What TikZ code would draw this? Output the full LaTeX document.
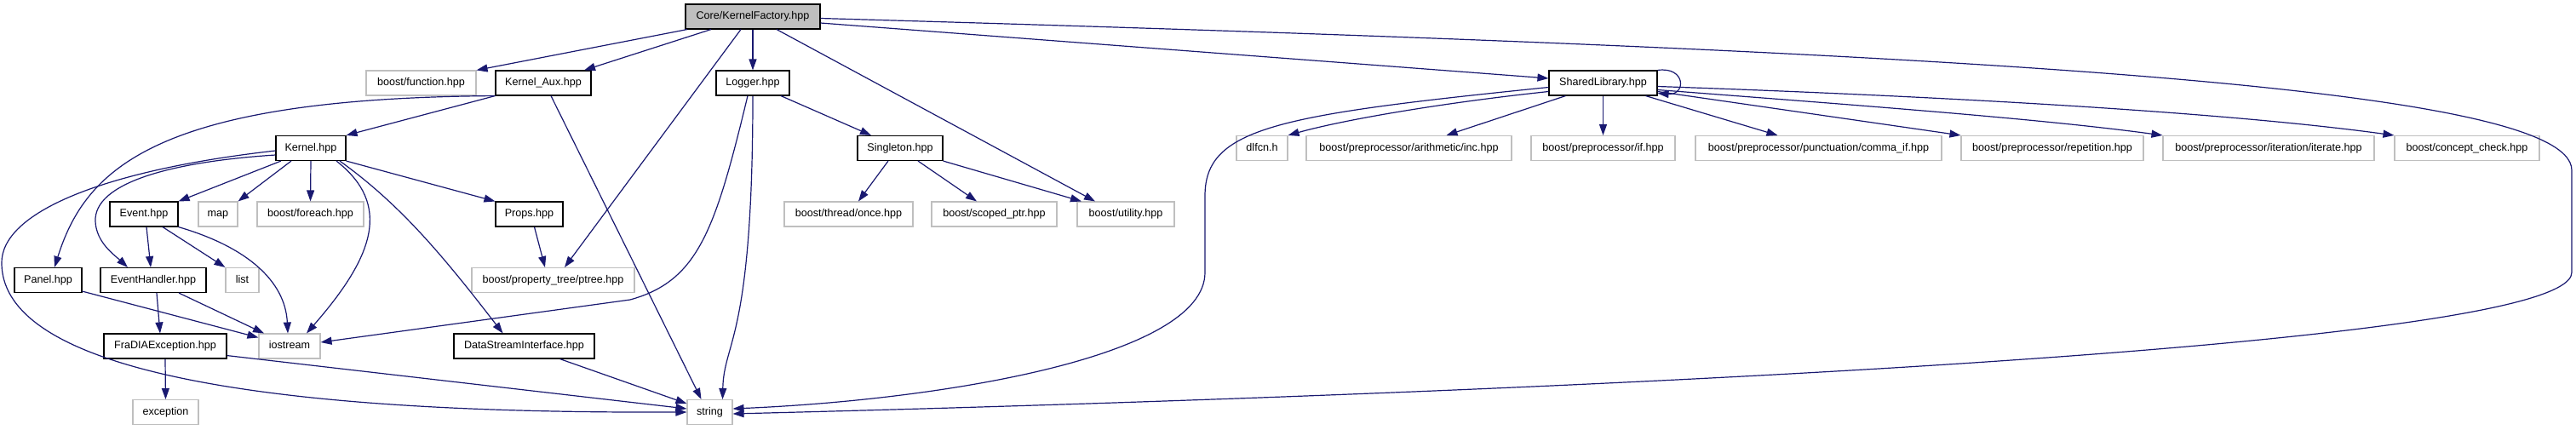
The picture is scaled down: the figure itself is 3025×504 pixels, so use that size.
\documentclass[tikz,border=0pt]{standalone}
\usepackage{fontspec}
\setmainfont{Liberation Sans}
\usetikzlibrary{arrows.meta}
\definecolor{edgec}{HTML}{191970}
\definecolor{grayb}{HTML}{BFBFBF}
\begin{document}
\begin{tikzpicture}[x=1pt,y=-1pt,
  box/.style={draw=black,line width=1.1pt,fill=white,minimum height=29pt,inner sep=0pt,
    font=\fontsize{12.6}{14}\selectfont,text height=9.2pt,text depth=2.6pt},
  ext/.style={box,draw=grayb,line width=1.1pt},
  root/.style={box,fill=grayb},
  dep/.style={draw=edgec,line width=1.2pt,-{Triangle[length=13pt,width=9pt,fill=edgec]}}]
\fill[white] (0,0) rectangle (3025,504);
\useasboundingbox (0,0) rectangle (3025,504);
% row 0
\node[root,minimum width=158pt] (kf) at (884,19.5) {Core/KernelFactory.hpp};
% row 1
\node[ext,minimum width=129pt] (fun) at (494.5,97.5) {boost/function.hpp};
\node[box,minimum width=112pt] (kaux) at (638,97.5) {Kernel\_Aux.hpp};
\node[box,minimum width=86pt] (log) at (884,97.5) {Logger.hpp};
\node[box,minimum width=127pt] (sl) at (1882.5,97.5) {SharedLibrary.hpp};
% row 2
\node[box,minimum width=82pt] (ker) at (365,174) {Kernel.hpp};
\node[box,minimum width=100pt] (sing) at (1057,174) {Singleton.hpp};
\node[ext,minimum width=60pt] (dl) at (1482,174) {dlfcn.h};
\node[ext,minimum width=241pt] (inc) at (1654.5,174) {boost/preprocessor/arithmetic/inc.hpp};
\node[ext,minimum width=169pt] (pif) at (1882.5,174) {boost/preprocessor/if.hpp};
\node[ext,minimum width=289pt] (comma) at (2135.5,174) {boost/preprocessor/punctuation/comma\_if.hpp};
\node[ext,minimum width=214pt] (rep) at (2410,174) {boost/preprocessor/repetition.hpp};
\node[ext,minimum width=248pt] (iter) at (2664,174) {boost/preprocessor/iteration/iterate.hpp};
\node[ext,minimum width=170pt] (cc) at (2897,174) {boost/concept\_check.hpp};
% row 3
\node[box,minimum width=80pt] (ev) at (169,251.5) {Event.hpp};
\node[ext,minimum width=46pt] (map) at (256,251.5) {map};
\node[ext,minimum width=125pt] (fe) at (364.5,251.5) {boost/foreach.hpp};
\node[box,minimum width=79pt] (props) at (621.5,251.5) {Props.hpp};
\node[ext,minimum width=151pt] (once) at (996.5,251.5) {boost/thread/once.hpp};
\node[ext,minimum width=147pt] (sp) at (1167.5,251.5) {boost/scoped\_ptr.hpp};
\node[ext,minimum width=114pt] (util) at (1322,251.5) {boost/utility.hpp};
% row 4
\node[box,minimum width=79pt] (panel) at (56.5,329) {Panel.hpp};
\node[box,minimum width=124pt] (eh) at (180,329) {EventHandler.hpp};
\node[ext,minimum width=39pt] (list) at (284.5,329) {list};
\node[ext,minimum width=191pt] (ptree) at (649.5,329) {boost/property\_tree/ptree.hpp};
% row 5
\node[box,minimum width=144pt] (fra) at (194,406.5) {FraDIAException.hpp};
\node[ext,minimum width=72pt] (ios) at (340,406.5) {iostream};
\node[box,minimum width=165pt] (dsi) at (615.5,406.5) {DataStreamInterface.hpp};
% row 6
\node[ext,minimum width=77pt] (exc) at (194.5,484) {exception};
\node[ext,minimum width=53pt] (str) at (833.5,484) {string};

% edges from KernelFactory
\draw[dep] ([xshift=-77pt]kf.south) -- (fun.north east);
\draw[dep] ([xshift=-49pt]kf.south) -- ([xshift=48pt]kaux.north);
\draw[dep] (kf.south) -- (log.north);
\draw[dep] ([xshift=-14pt]kf.south) -- ([xshift=13.5pt]ptree.north);
\draw[dep] ([xshift=28pt]kf.south) -- ([xshift=-36pt]util.north);
\draw[dep] ([yshift=-7.5pt]kf.east) -- ([yshift=5.5pt]sl.west);
\draw[dep] ([yshift=-2pt]kf.east) .. controls (2300,60) and (3020,100) .. (3020,200)
   -- (3020,320) .. controls (3020,420) and (1500,470) .. ([yshift=-2pt]str.east);
% Kernel_Aux
\draw[dep] (kaux.south west) -- (ker.north east);
\draw[dep] (kaux.south west) .. controls (180,115) and (100,200) .. ([xshift=7.5pt]panel.north);
\draw[dep] ([xshift=9pt]kaux.south) -- ([xshift=-10pt]str.north);
% Kernel
\draw[dep] ([xshift=-35pt]ker.south) -- (ev.north east);
\draw[dep] ([xshift=-23pt]ker.south) -- (map.north east);
\draw[dep] (ker.south) -- (fe.north);
\draw[dep] (ker.south east) -- (props.north west);
\draw[dep] ([xshift=30pt]ker.south) .. controls (460,240) and (440,300) .. ([xshift=20pt]ios.north);
\draw[dep] ([xshift=34pt]ker.south) .. controls (470,240) and (520,300) .. ([xshift=-25pt]dsi.north);
\draw[dep] ([yshift=-8pt]ker.west) .. controls (200,190) and (110,215) .. (112,260)
   .. controls (113,285) and (135,300) .. ([xshift=-30pt]eh.north);
\draw[dep] ([yshift=-3pt]ker.west) .. controls (120,200) and (0,250) .. (2,310)
   .. controls (5,470) and (500,485) .. (str.west);
% Event
\draw[dep] ([xshift=3pt]ev.south) -- ([xshift=-3pt]eh.north);
\draw[dep] ([xshift=22pt]ev.south) -- (list.north west);
\draw[dep] (ev.south east) .. controls (290,290) and (335,330) .. ([xshift=-2pt]ios.north);
% Panel, EventHandler
\draw[dep] ([yshift=2pt]panel.south east) -- ([yshift=-5pt]ios.north west);
\draw[dep] ([xshift=4pt]eh.south) -- ([xshift=-6pt]fra.north);
\draw[dep] ([xshift=30pt]eh.south) -- ([xshift=-30pt]ios.north);
% FraDIAException, DataStreamInterface, Props
\draw[dep] (fra.south) -- (exc.north);
\draw[dep] ([yshift=4pt]fra.south east) -- ([yshift=4pt]str.west);
\draw[dep] ([xshift=42pt]dsi.south) -- ([yshift=10pt]str.west);
\draw[dep] ([xshift=6pt]props.south) -- ([xshift=-9.5pt]ptree.north);
% Logger
\draw[dep] ([xshift=33pt]log.south) -- ([xshift=-34pt]sing.north);
\draw[dep] ([xshift=-6pt]log.south) .. controls (840,270) and (820,330) .. (740,352) -- ([yshift=4.5pt]ios.east);
\draw[dep] (log.south) .. controls (884,400) and (850,400) .. ([xshift=15pt]str.north);
% Singleton
\draw[dep] ([xshift=-14pt]sing.south) -- ([xshift=11.5pt]once.north);
\draw[dep] ([xshift=21pt]sing.south) -- ([xshift=-20.5pt]sp.north);
\draw[dep] (sing.south east) -- ([xshift=-52pt]util.north);
% SharedLibrary
\draw[dep] (sl.north east) .. controls (1980,78) and (1980,112) .. ([yshift=3pt]sl.south east);
\draw[dep] ([yshift=-10pt]sl.west) .. controls (1700,120) and (1580,140) .. (dl.north east);
\draw[dep] ([xshift=-44pt]sl.south) -- ([xshift=44pt]inc.north);
\draw[dep] (sl.south) -- (pif.north);
\draw[dep] ([xshift=50pt]sl.south) -- ([xshift=-48pt]comma.north);
\draw[dep] ([yshift=-10pt]sl.east) -- (rep.north west);
\draw[dep] ([yshift=-8pt]sl.east) .. controls (2200,125) and (2400,140) .. (iter.north west);
\draw[dep] ([yshift=-4pt]sl.east) .. controls (2250,112) and (2600,130) .. (cc.north west);
\draw[dep] ([yshift=-5pt]sl.west) .. controls (1500,135) and (1415,150) .. (1415,230)
   -- (1415,320) .. controls (1415,420) and (1100,470) .. ([yshift=4pt]str.east);
\end{tikzpicture}
\end{document}
